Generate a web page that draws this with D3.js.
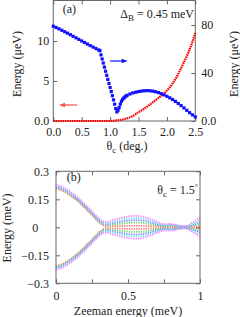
<!DOCTYPE html>
<html>
<head>
<meta charset="utf-8">
<script src="https://cdn.jsdelivr.net/npm/d3@7"></script>
<style>
body { margin: 0; background: #fff; }
svg text { font-family: "Liberation Serif", "DejaVu Serif", serif; fill: #222; }
</style>
</head>
<body>
<div id="chart"></div>
<script>
// panel (a): gap (azul, eje derecho) y splitting (rojo, eje izquierdo) vs angulo
let thetaBlue = [0, 0.05, 0.1, 0.15, 0.2, 0.25, 0.3, 0.35, 0.4, 0.45, 0.5, 0.55, 0.6, 0.65, 0.7, 0.75, 0.8,
    0.82, 0.84, 0.86, 0.88, 0.9, 0.92, 0.94, 0.96, 0.98, 1.0, 1.02, 1.04, 1.06, 1.08, 1.1, 1.12,
    1.14, 1.16, 1.18, 1.2, 1.22, 1.24, 1.26, 1.28, 1.3,
    1.35, 1.4, 1.45, 1.5, 1.55, 1.6, 1.65, 1.7, 1.75, 1.8, 1.85, 1.9, 1.95, 2.0,
    2.05, 2.1, 2.15, 2.2, 2.25, 2.3, 2.35, 2.4, 2.45, 2.5];
let gapBlue = [79.0, 77.9, 76.8, 75.6, 74.4, 73.2, 71.9, 70.6, 69.3, 68.0, 66.7, 65.4, 64.1, 62.8, 61.6, 60.4, 59.2,
    58.6, 55.1, 51.7, 48.3, 44.9, 41.5, 38.1, 34.7, 31.3, 27.9, 24.5, 21.1, 17.6, 14.0, 10.4, 7.6,
    9.0, 11.2, 14.0, 16.4, 18.0, 19.1, 20.0, 20.8, 21.4,
    22.5, 23.4, 24.0, 24.5, 24.9, 25.2, 25.3, 25.2, 24.9, 24.4, 23.7, 22.8, 21.8, 20.6,
    19.3, 17.9, 16.3, 14.6, 12.8, 10.9, 8.9, 6.9, 5.1, 3.4];

let thetaRed = [0, 0.1, 0.2, 0.3, 0.4, 0.5, 0.6, 0.7, 0.8, 0.9, 1.0,
    1.05, 1.1, 1.15, 1.2, 1.25, 1.3, 1.35, 1.4, 1.45, 1.5, 1.55, 1.6, 1.65, 1.7, 1.75,
    1.8, 1.85, 1.9, 1.95, 2.0, 2.05, 2.1, 2.15, 2.2, 2.25, 2.3, 2.35, 2.4, 2.45, 2.5];
let splitRed = [0, 0, 0, 0, 0, 0, 0, 0, 0, 0, 0,
    0.02, 0.05, 0.1, 0.16, 0.24, 0.34, 0.46, 0.61, 0.85, 1.1, 1.32, 1.55, 1.8, 2.05, 2.32,
    2.6, 2.87, 3.15, 3.45, 3.8, 4.2, 4.7, 5.25, 5.9, 6.6, 7.35, 8.1, 8.95, 9.9, 11.0];

let ticksALeft = [0, 5, 10];
let ticksARight = [0, 40, 80];
let ticksABottom = [0, 0.5, 1, 1.5, 2, 2.5];

// panel (b): niveles de energia vs energia Zeeman (simetricos en +/-)
let zeeman = [0, 0.05, 0.1, 0.15, 0.2, 0.25, 0.3, 0.35, 0.4, 0.45, 0.5,
    0.55, 0.6, 0.65, 0.7, 0.75, 0.8, 0.85, 0.9, 0.95, 1.0];
let levelRed = [0.208, 0.194, 0.17, 0.14, 0.104, 0.065, 0.026, 0.005, 0.006, 0.007, 0.008,
    0.008, 0.008, 0.007, 0.005, 0.003, 0.004, 0.002, 0.001, 0.003, 0.005];
let levelGreen = [0.213, 0.199, 0.175, 0.145, 0.109, 0.07, 0.031, 0.01, 0.014, 0.019, 0.023,
    0.025, 0.023, 0.018, 0.011, 0.006, 0.008, 0.004, 0.003, 0.008, 0.016];
let levelBlue = [0.218, 0.204, 0.18, 0.15, 0.114, 0.075, 0.036, 0.016, 0.023, 0.03, 0.036,
    0.039, 0.036, 0.028, 0.017, 0.009, 0.011, 0.006, 0.004, 0.013, 0.027];
let levelCyan = [0.223, 0.209, 0.185, 0.155, 0.119, 0.08, 0.041, 0.022, 0.031, 0.04, 0.047,
    0.05, 0.047, 0.037, 0.023, 0.013, 0.014, 0.008, 0.005, 0.019, 0.038];
let levelMagenta = [0.228, 0.214, 0.19, 0.16, 0.124, 0.085, 0.046, 0.028, 0.04, 0.05, 0.058,
    0.062, 0.058, 0.046, 0.03, 0.018, 0.018, 0.01, 0.006, 0.026, 0.05];
let levelColors = ["#ff2020", "#20c020", "#2040ff", "#20d8f0", "#ff30ff"];

let ticksBLeft = [-0.3, -0.15, 0, 0.15, 0.3];
let ticksBBottom = [0, 0.25, 0.5, 0.75, 1];

const frameColor = "#666";

let svg = d3.select("#chart").append("svg")
    .attr("width", 240)
    .attr("height", 317);

// ---------- panel (a) ----------
let xA = d3.scaleLinear().domain([0, 2.5]).range([53.3, 195.3]);
let yAL = d3.scaleLinear().domain([0, 15]).range([121, 1]);
let yAR = d3.scaleLinear().domain([0, 100]).range([121, 1]);

function estiloEje(g) {
    g.select(".domain").remove();
    g.attr("font-family", null).attr("font-size", 12);
    g.selectAll(".tick line").attr("stroke", frameColor);
}

svg.append("g")
    .attr("transform", "translate(53.3,0)")
    .call(d3.axisLeft(yAL).tickValues(ticksALeft).tickSizeInner(-4).tickSizeOuter(0).tickPadding(4)
        .tickFormat(d => d === 0 ? "0.0" : d))
    .call(estiloEje);

svg.append("g")
    .attr("transform", "translate(195.3,0)")
    .call(d3.axisRight(yAR).tickValues(ticksARight).tickSizeInner(-4).tickSizeOuter(0).tickPadding(6)
        .tickFormat(d => d === 0 ? "0.0" : d))
    .call(estiloEje);

svg.append("g")
    .attr("transform", "translate(0,121)")
    .call(d3.axisBottom(xA).tickValues(ticksABottom).tickSizeInner(-4).tickSizeOuter(0).tickPadding(6))
    .call(estiloEje);

svg.append("g")
    .attr("transform", "translate(0,0.5)")
    .call(d3.axisTop(xA).tickValues(ticksABottom).tickSizeInner(-4).tickSizeOuter(0).tickFormat(""))
    .call(estiloEje);

svg.append("rect")
    .attr("x", 53.3).attr("y", 0.5)
    .attr("width", 142).attr("height", 120.5)
    .attr("fill", "none").attr("stroke", frameColor);

// curva roja (eje izquierdo)
let lineRed = d3.line()
    .x((d, i) => xA(thetaRed[i]))
    .y(d => yAL(d))
    .curve(d3.curveMonotoneX);

svg.append("path")
    .datum(splitRed)
    .attr("fill", "none")
    .attr("stroke", "#ff0000")
    .attr("stroke-width", 2.2)
    .attr("stroke-dasharray", "1.6 0.7")
    .attr("d", lineRed);

// puntos azules (eje derecho)
svg.append("g").selectAll("rect")
    .data(gapBlue)
    .join("rect")
    .attr("x", (d, i) => xA(thetaBlue[i]) - 1.6)
    .attr("y", d => yAR(d) - 1.6)
    .attr("width", 3.2)
    .attr("height", 3.2)
    .attr("fill", "#1010ff");

// flechas que indican el eje de cada curva
function flecha(x1, x2, y, color) {
    let dir = x2 > x1 ? 1 : -1;
    svg.append("line")
        .attr("x1", x1).attr("x2", x2 - dir * 4)
        .attr("y1", y).attr("y2", y)
        .attr("stroke", color).attr("stroke-width", 1.2);
    svg.append("path")
        .attr("d", `M${x2},${y} L${x2 - dir * 6},${y - 2.2} L${x2 - dir * 6},${y + 2.2} Z`)
        .attr("fill", color);
}
flecha(xA(1.0), xA(1.31), yAR(50), "#1010ff");
flecha(xA(0.42), xA(0.1), yAL(2), "#ff5050");

svg.append("text").attr("x", 62.7).attr("y", 13).attr("font-size", 12).text("(a)");

let deltaText = svg.append("text")
    .attr("x", 194).attr("y", 18)
    .attr("text-anchor", "end")
    .attr("font-size", 12);
deltaText.append("tspan").text("Δ");
deltaText.append("tspan").attr("font-size", 9).attr("dy", 3).text("B");
deltaText.append("tspan").attr("dy", -3).text(" = 0.45 meV");

svg.append("text")
    .attr("transform", "translate(20.5,64) rotate(-90)")
    .attr("text-anchor", "middle")
    .attr("font-size", 12)
    .text("Energy (μeV)");

svg.append("text")
    .attr("transform", "translate(237.5,64) rotate(-90)")
    .attr("text-anchor", "middle")
    .attr("font-size", 12)
    .text("Energy (μeV)");

let thetaLabel = svg.append("text")
    .attr("x", 127).attr("y", 149.5)
    .attr("text-anchor", "middle")
    .attr("font-size", 12);
thetaLabel.append("tspan").text("θ");
thetaLabel.append("tspan").attr("font-size", 9).attr("dy", 3).text("c");
thetaLabel.append("tspan").attr("dy", -3).text(" (deg.)");

// ---------- panel (b) ----------
let xB = d3.scaleLinear().domain([0, 1]).range([56, 200]);
let yB = d3.scaleLinear().domain([-0.3, 0.3]).range([283.3, 171.3]);

let ejeIzqB = svg.append("g")
    .attr("transform", "translate(56,0)")
    .call(d3.axisLeft(yB).tickValues(ticksBLeft).tickSizeInner(-4).tickSizeOuter(0).tickPadding(7)
        .tickFormat(d => d === 0 ? "0" : (d < 0 ? "−" + Math.abs(d) : d)))
    .call(estiloEje);
ejeIzqB.selectAll(".tick text").filter(d => d === 0).attr("dx", "-0.9em");

svg.append("g")
    .attr("transform", "translate(200,0)")
    .call(d3.axisRight(yB).tickValues(ticksBLeft).tickSizeInner(-4).tickSizeOuter(0).tickFormat(""))
    .call(estiloEje);

svg.append("g")
    .attr("transform", "translate(0,283.3)")
    .call(d3.axisBottom(xB).tickValues(ticksBBottom).tickSizeInner(-4).tickSizeOuter(0).tickPadding(8)
        .tickFormat(d => (d === 0.25 || d === 0.75) ? "" : d))
    .call(estiloEje);

svg.append("g")
    .attr("transform", "translate(0,171.3)")
    .call(d3.axisTop(xB).tickValues(ticksBBottom).tickSizeInner(-4).tickSizeOuter(0).tickFormat(""))
    .call(estiloEje);

svg.append("rect")
    .attr("x", 56).attr("y", 171.3)
    .attr("width", 144).attr("height", 112)
    .attr("fill", "none").attr("stroke", frameColor);

let lineB = d3.line()
    .x((d, i) => xB(zeeman[i]))
    .y(d => yB(d))
    .curve(d3.curveMonotoneX);

let levels = [levelRed, levelGreen, levelBlue, levelCyan, levelMagenta];
let nivelesG = svg.append("g").attr("opacity", 0.6);
levels.forEach((lv, k) => {
    [1, -1].forEach(s => {
        nivelesG.append("path")
            .datum(lv.map(v => s * v))
            .attr("fill", "none")
            .attr("stroke", levelColors[k])
            .attr("stroke-width", 1.8)
            .attr("stroke-dasharray", "1.3 1.1")
            .attr("d", lineB);
    });
});

svg.append("text").attr("x", 66.7).attr("y", 181).attr("font-size", 12).text("(b)");

let thetaB = svg.append("text")
    .attr("x", 198).attr("y", 194)
    .attr("text-anchor", "end")
    .attr("font-size", 12);
thetaB.append("tspan").text("θ");
thetaB.append("tspan").attr("font-size", 9).attr("dy", 3).text("c");
thetaB.append("tspan").attr("dy", -3).text(" = 1.5");
thetaB.append("tspan").attr("font-size", 8).attr("dy", -4).text("°");

svg.append("text")
    .attr("transform", "translate(10.5,228) rotate(-90)")
    .attr("text-anchor", "middle")
    .attr("font-size", 12)
    .text("Energy (meV)");

svg.append("text")
    .attr("x", 128).attr("y", 315)
    .attr("text-anchor", "middle")
    .attr("font-size", 12)
    .text("Zeeman energy (meV)");
</script>
</body>
</html>
